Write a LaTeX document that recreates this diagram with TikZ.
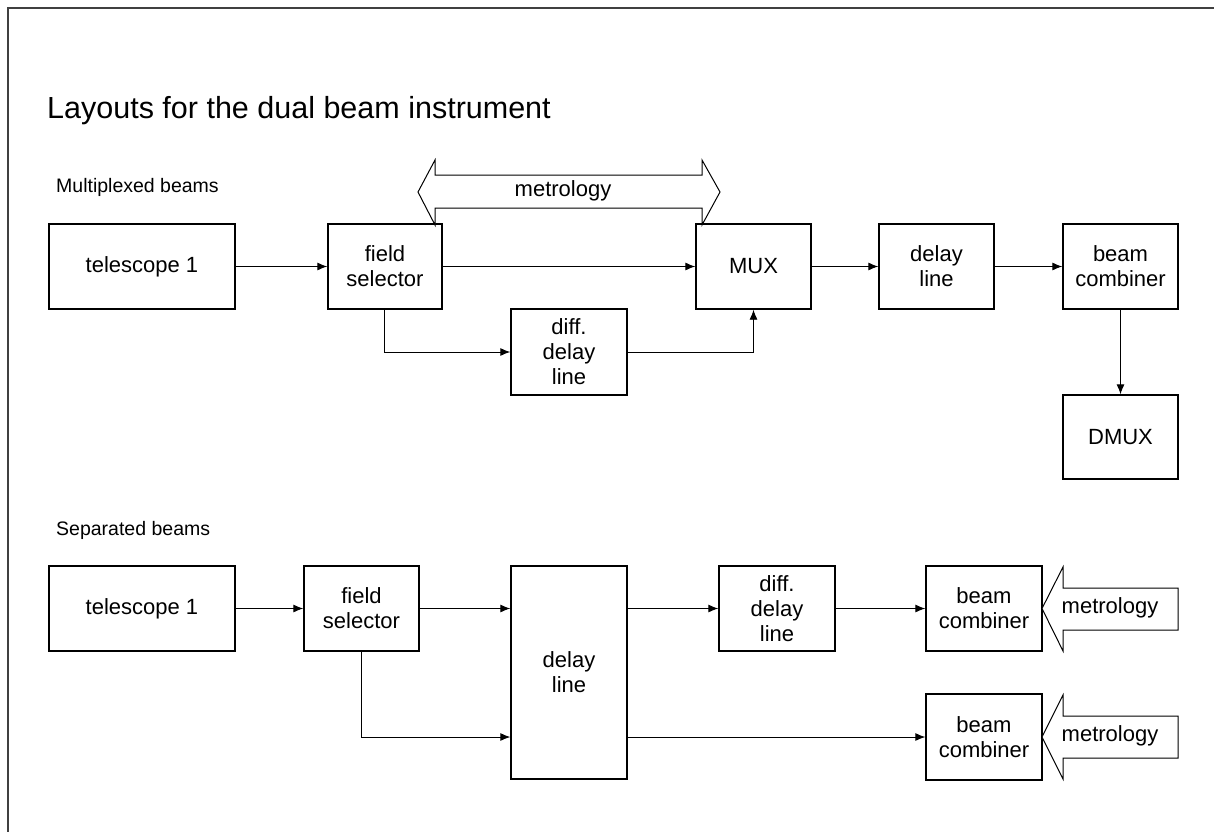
\documentclass[tikz,border=0pt]{standalone}
\usepackage{fontspec}
\setmainfont{Liberation Sans}
\usetikzlibrary{arrows.meta,calc}

\tikzset{
  blk/.style={draw=black, line width=1.4pt, rectangle, inner sep=0pt,
    align=center, font=\fontsize{22}{25}\selectfont},
  flow/.style={draw=black, line width=0.9pt, -{Latex[length=10pt,width=8pt]}},
  metarrow/.style={draw=black, line width=1pt, fill=white, line join=miter},
  metlabel/.style={font=\fontsize{22}{25}\selectfont, inner sep=0pt},
  section/.style={font=\fontsize{19.5}{22}\selectfont, anchor=base west, inner sep=0pt},
}

\begin{document}
\begin{tikzpicture}[x=1pt, y=-1pt]
  \useasboundingbox (0,0) rectangle (1214,832);

  % page frame (top and left edges)
  \draw[line width=2.5pt, draw=black!75] (1214,8) -- (8,8) -- (8,832);

  % headings
  \node[anchor=base west, inner sep=0pt, font=\fontsize{30.5}{36}\selectfont] (title) at (47,118)
    {Layouts for the dual beam instrument};
  \node[section] (lblmux) at (56,192) {Multiplexed beams};
  \node[section] (lblsep) at (56,535) {Separated beams};

  % ---------- multiplexed beams ----------
  \node[blk, minimum width=186pt, minimum height=85pt] (t1)   at (142,266.5)   {telescope 1};
  \node[blk, minimum width=114pt, minimum height=85pt] (fs1)  at (385,266.5)   {field\\selector};
  \node[blk, minimum width=115pt, minimum height=85pt] (mux)  at (753.5,266.5) {MUX};
  \node[blk, minimum width=115pt, minimum height=85pt] (dl1)  at (936.5,266.5) {delay\\line};
  \node[blk, minimum width=115pt, minimum height=85pt] (bc1)  at (1120.5,266.5){beam\\combiner};
  \node[blk, minimum width=116pt, minimum height=86pt] (dd1)  at (569,352)     {diff.\\delay\\line};
  \node[blk, minimum width=115pt, minimum height=84pt] (dmux) at (1120.5,437)  {DMUX};

  \draw[flow] (t1.east) -- (fs1.west);
  \draw[flow] (fs1.east) -- (mux.west);
  \draw[flow] (fs1.south -| 384,0) |- (dd1.west);
  \draw[flow] (dd1.east) -| (mux.south);
  \draw[flow] (mux.east) -- (dl1.west);
  \draw[flow] (dl1.east) -- (bc1.west);
  \draw[flow] (bc1.south) -- (dmux.north);

  % metrology double arrow between field selector and MUX
  \draw[metarrow] (418,192) -- (435,160) -- (435,175) -- (702,175) -- (702,160)
    -- (720,192) -- (702,225) -- (702,208) -- (435,208) -- (435,225) -- cycle;
  \node[metlabel] (met1) at (563,191) {metrology};

  % ---------- separated beams ----------
  \node[blk, minimum width=186pt, minimum height=85pt]  (t2)  at (142,608.5)   {telescope 1};
  \node[blk, minimum width=115pt, minimum height=85pt]  (fs2) at (361.5,608.5) {field\\selector};
  \node[blk, minimum width=116pt, minimum height=213pt] (dl2) at (569,672.5)   {delay\\line};
  \node[blk, minimum width=116pt, minimum height=85pt]  (dd2) at (777,608.5)   {diff.\\delay\\line};
  \node[blk, minimum width=116pt, minimum height=85pt]  (bc2) at (984,608.5)   {beam\\combiner};
  \node[blk, minimum width=116pt, minimum height=86pt]  (bc3) at (984,737)     {beam\\combiner};

  \draw[flow] (t2.east) -- (fs2.west);
  \draw[flow] (fs2.east) -- (fs2.east -| dl2.west);
  \draw[flow] (fs2.south) |- (dl2.west |- bc3.west);
  \draw[flow] (dl2.east |- dd2.west) -- (dd2.west);
  \draw[flow] (dd2.east) -- (bc2.west);
  \draw[flow] (dl2.east |- bc3.west) -- (bc3.west);

  % metrology inputs to the beam combiners
  \draw[metarrow] (1042,608.5) -- (1063,567) -- (1063,588) -- (1178,588)
    -- (1178,630) -- (1063,630) -- (1063,651) -- cycle;
  \node[metlabel] (met2) at (1110,607.5) {metrology};

  \draw[metarrow] (1042,737) -- (1063,695) -- (1063,716) -- (1178,716)
    -- (1178,758) -- (1063,758) -- (1063,779) -- cycle;
  \node[metlabel] (met3) at (1110,736) {metrology};
\end{tikzpicture}
\end{document}
